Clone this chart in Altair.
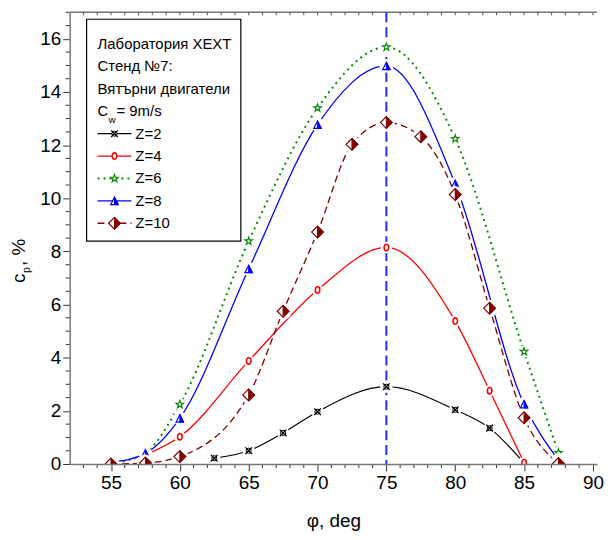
import altair as alt
import pandas as pd

# ---- data ----
phi_z2 = [62.5, 65, 67.5, 70, 75, 80, 82.5, 85]
cp_z2 = [0.22, 0.50, 1.17, 1.97, 2.91, 2.04, 1.35, 0.04]

phi_z4 = [57.5, 60, 65, 70, 75, 80, 82.5, 85]
cp_z4 = [0.35, 1.03, 3.88, 6.55, 8.15, 5.38, 2.76, 0.05]

phi_z6 = [55, 57.5, 60, 65, 70, 75, 80, 85, 87.5]
cp_z6 = [0.02, 0.42, 2.24, 8.39, 13.40, 15.69, 12.24, 4.23, 0.42]

phi_z8 = [55, 57.5, 60, 65, 70, 75, 80, 85, 87.5]
cp_z8 = [0.06, 0.40, 1.72, 7.34, 12.77, 14.98, 10.54, 2.25, 0.15]

phi_z10 = [55, 57.5, 60, 65, 67.5, 70, 72.5, 75, 77.5, 80, 82.5, 85, 87.5]
cp_z10 = [0.00, 0.04, 0.28, 2.60, 5.75, 8.73, 12.03, 12.85, 12.32, 10.14, 5.86, 1.74, 0.02]

names = ["Z=2", "Z=4", "Z=6", "Z=8", "Z=10"]
x_major = [55, 60, 65, 70, 75, 80, 85, 90]
y_major = [0, 2, 4, 6, 8, 10, 12, 14, 16]
x_minor = [v for v in range(53, 91) if v % 5 != 0]
x_top = list(range(53, 91))
y_minor = [i * 0.5 for i in range(1, 35) if (i * 0.5) % 2 != 0]
peak_phi = [75]

legend_title = ["Лаборатория XEXT", "Стенд №7:", "Вятърни двигатели"]

FONT = "Liberation Sans"
W, H = 530, 454
xs = alt.Scale(domain=[52, 90.3], nice=False, zero=False)
ys = alt.Scale(domain=[0, 17], nice=False, zero=False)

one = pd.DataFrame({"a": [0]})

TRI = "M0,-1L1,1L-1,1Z"
TRI_R = "M0,-1L1,1L0,1Z"
DIA = "M0,-1L1,0L0,1L-1,0Z"
DIA_R = "M0,-1L1,0L0,1Z"
XCROSS = "M-1,-1L1,1M1,-1L-1,1"
OVAL = "M0,-1A0.7,1 0 1,1 0,1A0.7,1 0 1,1 0,-1Z"
STAR = ("M0,-1L0.235,-0.324L0.951,-0.309L0.380,0.124L0.588,0.809L0,0.4"
        "L-0.588,0.809L-0.380,0.124L-0.951,-0.309L-0.235,-0.324Z")

styles = {
    "Z=2": dict(color="#000000", dash=None, sw=1.2, halo=110,
                marks=[dict(shape="circle", size=26, fill="white", stroke="#000000", sw=1.0),
                       dict(shape=XCROSS, size=45, fill=None, stroke="#000000", sw=1.3)]),
    "Z=4": dict(color="#ff0000", dash=None, sw=1.3, halo=90,
                marks=[dict(shape=OVAL, size=42, fill="white", stroke="#ff0000", sw=1.6)]),
    "Z=6": dict(color="#0a8a0a", dash=[2, 4], sw=2.0, halo=110,
                marks=[dict(shape=STAR, size=64, fill="white", stroke="#0a8a0a", sw=1.2)]),
    "Z=8": dict(color="#0000ff", dash=None, sw=1.3, halo=140,
                marks=[dict(shape=TRI, size=56, fill="white", stroke="#0000ff", sw=1.2),
                       dict(shape=TRI_R, size=56, fill="#0000ff", stroke="#0000ff", sw=1.0)]),
    "Z=10": dict(color="#800000", dash=[7, 4], sw=1.3, halo=230,
                 marks=[dict(shape=DIA, size=140, fill="white", stroke="#800000", sw=1.2),
                        dict(shape=DIA_R, size=140, fill="#800000", stroke="#800000", sw=1.0)]),
}
data = {
    "Z=2": (phi_z2, cp_z2), "Z=4": (phi_z4, cp_z4), "Z=6": (phi_z6, cp_z6),
    "Z=8": (phi_z8, cp_z8), "Z=10": (phi_z10, cp_z10),
}

xaxis = alt.Axis(values=x_major, tickSize=7, tickColor="#333333", tickWidth=1,
                 domainColor="#777777", domainWidth=1.5, labelFont=FONT, labelFontSize=19,
                 labelColor="black", labelPadding=3, labelFlush=False, title="φ, deg",
                 titleFont=FONT, titleFontSize=19, titleFontWeight="normal", titleColor="black",
                 titlePadding=19, grid=False, zindex=1)
yaxis = alt.Axis(values=y_major, tickSize=7, tickColor="#333333", tickWidth=1,
                 domainColor="#777777", domainWidth=1.5, labelFont=FONT, labelFontSize=19,
                 labelColor="black", labelPadding=2, title="", grid=False, zindex=1)


def XE(field):
    return alt.X(field, type="quantitative", scale=xs, axis=xaxis)


def YE(field):
    return alt.Y(field, type="quantitative", scale=ys, axis=yaxis)


def point_layer(df, m, x_enc, y_enc, clip=True):
    kw = dict(shape=m["shape"], size=m["size"], opacity=1, strokeWidth=m["sw"], clip=clip)
    if m["fill"] is None:
        kw.update(filled=False, stroke=m["stroke"], fillOpacity=0)
    else:
        kw.update(filled=True, fill=m["fill"], stroke=m["stroke"], fillOpacity=1)
    return alt.Chart(df).mark_point(**kw).encode(x=x_enc, y=y_enc)


layers = []

# top frame line and ticks
layers.append(alt.Chart(one).mark_rule(color="#777777", strokeWidth=1.5).encode(
    x=alt.value(0), x2=alt.value(W), y=alt.value(0)))
layers.append(alt.Chart(pd.DataFrame({"v": x_top})).mark_rule(color="#555555", strokeWidth=1).encode(
    x=XE("v"), y=alt.value(0), y2=alt.value(3)))

# vertical dashed line at the peak
layers.append(alt.Chart(pd.DataFrame({"phi": peak_phi})).mark_rule(
    color="#2030f0", strokeWidth=2, strokeDash=[10, 5]).encode(
    x=XE("phi"), y=alt.value(0), y2=alt.value(H)))

for n in names:
    st = styles[n]
    phi, cp = data[n]
    df = pd.DataFrame({"phi": phi, "cp": cp})
    lkw = dict(color=st["color"], strokeWidth=st["sw"], interpolate="monotone", clip=True)
    if st["dash"]:
        lkw["strokeDash"] = st["dash"]
    layers.append(alt.Chart(df).mark_line(**lkw).encode(x=XE("phi"), y=YE("cp")))
    layers.append(alt.Chart(df).mark_point(shape="circle", filled=True, fill="white",
                                           stroke="white", size=st["halo"], opacity=1,
                                           clip=True).encode(x=XE("phi"), y=YE("cp")))
    for m in st["marks"]:
        layers.append(point_layer(df, m, XE("phi"), YE("cp")))

# minor ticks
layers.append(alt.Chart(pd.DataFrame({"v": x_minor})).mark_rule(color="#333333", strokeWidth=1).encode(
    x=XE("v"), y=alt.value(H), y2=alt.value(H + 4)))
layers.append(alt.Chart(pd.DataFrame({"v": y_minor})).mark_rule(color="#333333", strokeWidth=1).encode(
    y=YE("v"), x=alt.value(0), x2=alt.value(-4)))

# legend box
layers.append(alt.Chart(one).mark_rect(fill="white", stroke="#000000", strokeWidth=1.2).encode(
    x=alt.value(17), x2=alt.value(172), y=alt.value(7), y2=alt.value(230)))
for i, t in enumerate(legend_title):
    layers.append(alt.Chart(one).mark_text(text=t, font=FONT, fontSize=15, align="left",
                                           baseline="middle", color="black").encode(
        x=alt.value(28), y=alt.value(32 + i * 22.5)))
layers.append(alt.Chart(one).mark_text(text="C", font=FONT, fontSize=15, align="left",
                                       baseline="middle", color="black").encode(
    x=alt.value(28), y=alt.value(99)))
layers.append(alt.Chart(one).mark_text(text="w", font=FONT, fontSize=10, align="left",
                                       baseline="middle", color="black").encode(
    x=alt.value(39), y=alt.value(108)))
layers.append(alt.Chart(one).mark_text(text="= 9m/s", font=FONT, fontSize=15, align="left",
                                       baseline="middle", color="black").encode(
    x=alt.value(47), y=alt.value(99)))
for i, n in enumerate(names):
    st = styles[n]
    yy = 122 + i * 22.5
    rkw = dict(color=st["color"], strokeWidth=st["sw"])
    if st["dash"]:
        rkw["strokeDash"] = st["dash"]
    layers.append(alt.Chart(one).mark_rule(**rkw).encode(
        x=alt.value(28), x2=alt.value(62), y=alt.value(yy)))
    for m in st["marks"]:
        layers.append(point_layer(one, m, alt.value(45), alt.value(yy), clip=False))
    layers.append(alt.Chart(one).mark_text(text=n, font=FONT, fontSize=15, align="left",
                                           baseline="middle", color="black").encode(
        x=alt.value(66), y=alt.value(yy)))

# y-axis title c_p, %
layers.append(alt.Chart(one).mark_text(text="c", font=FONT, fontSize=19, angle=270, align="left",
                                       baseline="alphabetic", color="black").encode(
    x=alt.value(-45), y=alt.value(272)))
layers.append(alt.Chart(one).mark_text(text="p", font=FONT, fontSize=11, angle=270, align="left",
                                       baseline="alphabetic", color="black").encode(
    x=alt.value(-40), y=alt.value(262)))
layers.append(alt.Chart(one).mark_text(text=", %", font=FONT, fontSize=19, angle=270, align="left",
                                       baseline="alphabetic", color="black").encode(
    x=alt.value(-45), y=alt.value(255)))

chart = alt.layer(*layers).properties(
    width=W, height=H,
    padding={"left": 2, "top": 2, "right": 0, "bottom": 0},
).configure_view(stroke=None)

chart.save("out.html", embed_options={"renderer": "svg", "actions": False})
